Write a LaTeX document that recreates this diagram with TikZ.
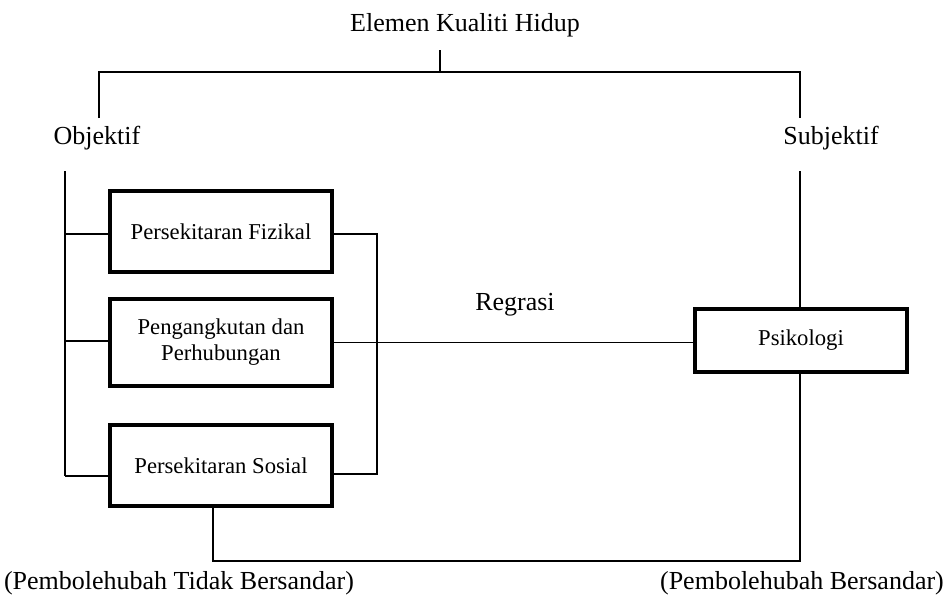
\documentclass[tikz,border=0pt]{standalone}
\usepackage{fontspec}
\setmainfont{Liberation Serif}
\begin{document}
\begin{tikzpicture}[x=0.75pt,y=-0.75pt,
  thin line/.style={line width=1.1pt},
  bigbox/.style={draw,line width=3pt,minimum width=166.5pt,inner sep=0pt,align=center,font=\fontsize{17}{19.5}\selectfont},
  outertext/.style={inner sep=0pt,font=\fontsize{19.5}{22}\selectfont}]
\useasboundingbox (0,0) rectangle (947,600);
% texts
\node[outertext] (title) at (465,25) {Elemen Kualiti Hidup};
\node[outertext] (obj) at (97,138) {Objektif};
\node[outertext] (subj) at (831,138) {Subjektif};
\node[outertext] (reg) at (515,305) {Regrasi};
\node[outertext] (lind) at (179,583) {(Pembolehubah Tidak Bersandar)};
\node[outertext] (ldep) at (802,583) {(Pembolehubah Bersandar)};
% boxes
\node[bigbox,minimum height=60.75pt] (b1) at (221,231.5) {Persekitaran Fizikal};
\node[bigbox,minimum height=65.25pt] (b2) at (221,342.5) {Pengangkutan dan\\Perhubungan};
\node[bigbox,minimum height=60.75pt] (b3) at (221,465.5) {Persekitaran Sosial};
\node[bigbox,minimum width=159pt,minimum height=47.25pt] (psi) at (801,340.5) {Psikologi};
% coordinates
\coordinate (t0) at (440,50);
\coordinate (t1) at (440,72);
\coordinate (tl) at (99,72);
\coordinate (tr) at (800,72);
\coordinate (tlb) at (99,118);
\coordinate (trb) at (800,118);
\coordinate (ltop) at (65,171);
\coordinate (l1) at (65,234);
\coordinate (l2) at (65,341);
\coordinate (l3) at (65,476);
\coordinate (r1) at (377,234);
\coordinate (r3) at (377,474);
\coordinate (stop) at (800,171);
\coordinate (bl) at (213,561);
% connectors
\draw[thin line] (t0) -- (t1);
\draw[thin line] (tlb) -- (tl) -- (tr) -- (trb);
\draw[thin line] (ltop) -- (l3);
\draw[thin line] (l1) -- (l1 -| b1.west);
\draw[thin line] (l2) -- (l2 -| b2.west);
\draw[thin line] (l3) -- (l3 -| b3.west);
\draw[thin line] (r1 -| b1.east) -- (r1) -- (r3) -- (r3 -| b3.east);
\draw[thin line] (b2.east) -- (b2.east -| psi.west);
\draw[thin line] (stop) -- (stop |- psi.north);
\draw[thin line] (stop |- psi.south) -- (stop |- bl) -- (bl) -- (bl |- b3.south);
\end{tikzpicture}
\end{document}
